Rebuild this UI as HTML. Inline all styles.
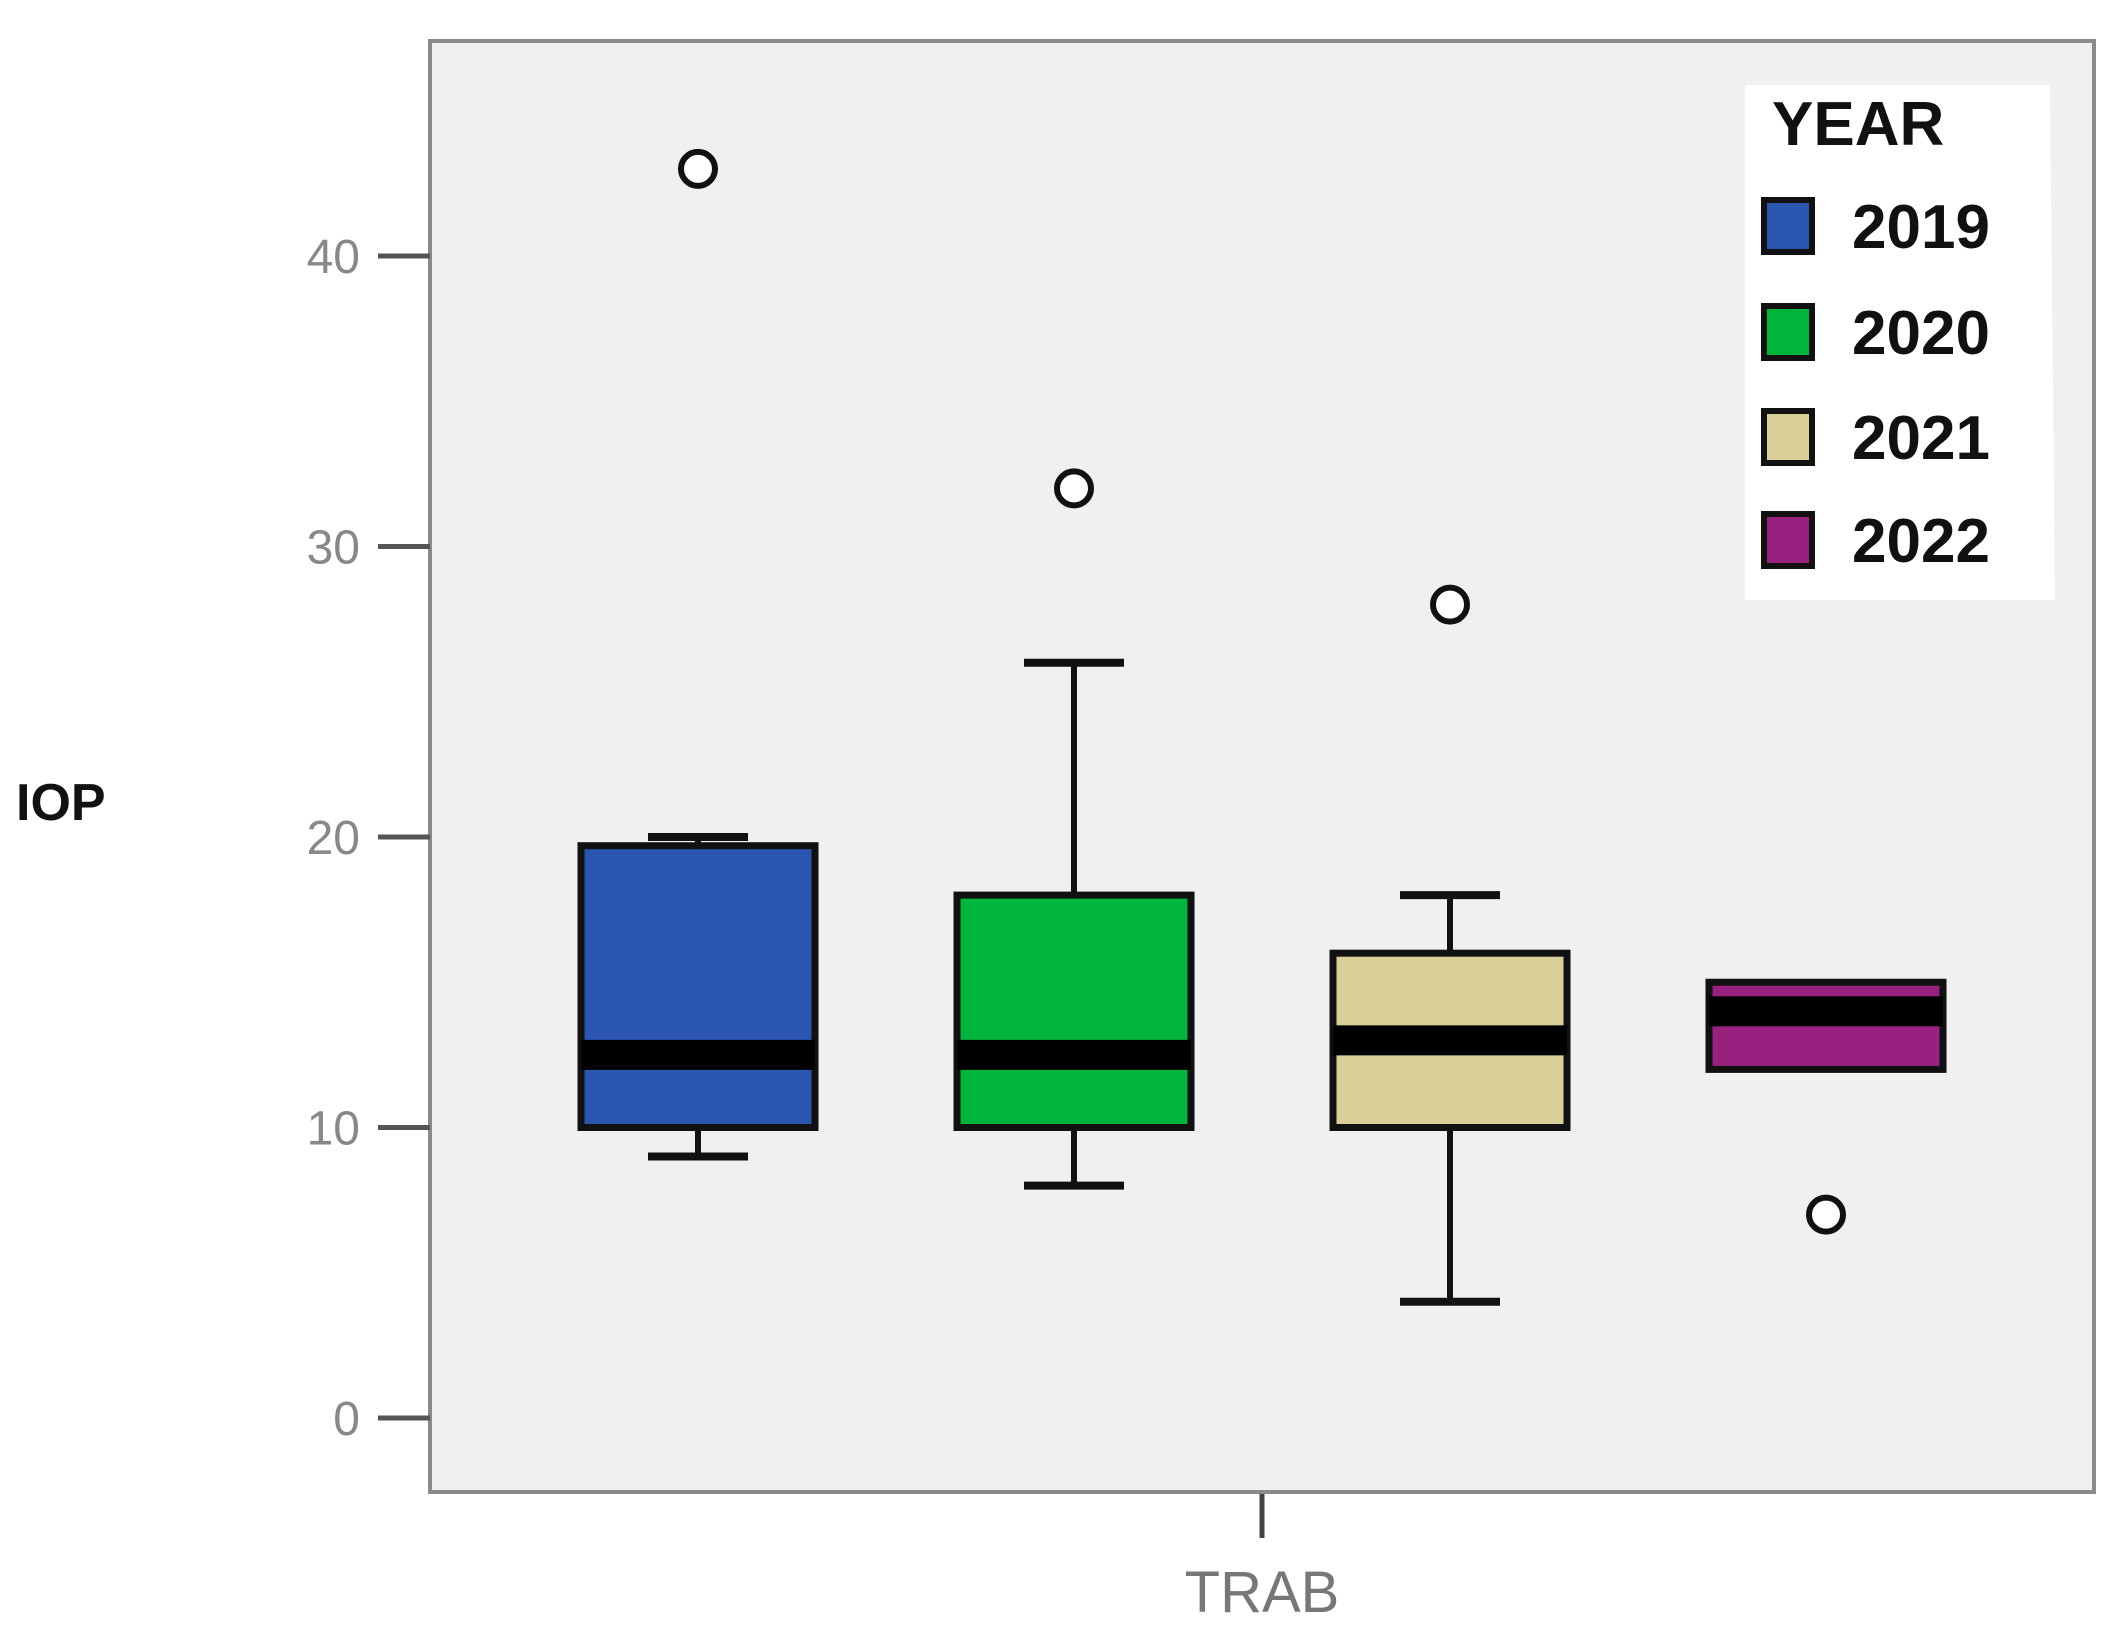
<!DOCTYPE html>
<html><head><meta charset="utf-8"><style>
body{margin:0;background:#fff;width:2122px;height:1640px;overflow:hidden}
svg{display:block}
</style></head><body>
<svg id="chart" width="2122" height="1640" xmlns="http://www.w3.org/2000/svg" font-family="Liberation Sans, sans-serif">
<rect x="430" y="41" width="1664" height="1451" fill="#f0f0f0" stroke="#8a8a8a" stroke-width="4"/>
<g id="yaxis"></g>
<g id="boxes"></g>
<text x="16" y="820" font-size="52" font-weight="bold" fill="#111">IOP</text>
<line x1="1262" y1="1494" x2="1262" y2="1538" stroke="#444" stroke-width="5"/>
<text x="1262" y="1612" font-size="58" fill="#777" text-anchor="middle">TRAB</text>
<g>
<path d="M1745 85 L2050 85 L2055 600 L1745 600 Z" fill="#fff"/>
<text x="1772" y="145" font-size="62" font-weight="bold" fill="#111">YEAR</text>
<g id="legend-items"></g>
</g>
</svg>
<script>
const categories = ["2019","2020","2021","2022"];
const colors = ["#2b56b0","#00b43c","#d8d098","#98207e"];
const q1 = [10,10,10,12];
const q3 = [19.7,18,16,15];
const medians = [12.5,12.5,13,14];
const whiskerLow = [9,8,4,12];
const whiskerHigh = [20,26,18,15];
const outliers = [43,32,28,7];
const yTicks = [0,10,20,30,40];

const NS="http://www.w3.org/2000/svg";
function y(v){return 1418-29.05*v;}
function xc(i){return 698+i*376;}
function mk(tag,attrs,parent){const e=document.createElementNS(NS,tag);for(const k in attrs)e.setAttribute(k,attrs[k]);parent.appendChild(e);return e;}
const ya=document.getElementById('yaxis');
yTicks.forEach(t=>{
  const l=mk('line',{x1:378,x2:430,y1:y(t),y2:y(t),stroke:'#555','stroke-width':5},ya);
  
  
  const tx=mk('text',{x:360,y:y(t)+17,'font-size':48,fill:'#888','text-anchor':'end'},ya);
  tx.textContent=t;
  
  
});
const bx=document.getElementById('boxes');
categories.forEach((c,i)=>{
  const cx=xc(i),hw=117,cap=50;
  const g=mk('g',{},bx);
  
  
  if(whiskerHigh[i]>q3[i]){
    mk('line',{x1:cx,x2:cx,y1:y(q3[i]),y2:y(whiskerHigh[i]),stroke:'#111','stroke-width':6},g);
    mk('line',{x1:cx-cap,x2:cx+cap,y1:y(whiskerHigh[i]),y2:y(whiskerHigh[i]),stroke:'#111','stroke-width':8},g);
  }
  if(whiskerLow[i]<q1[i]){
    mk('line',{x1:cx,x2:cx,y1:y(q1[i]),y2:y(whiskerLow[i]),stroke:'#111','stroke-width':6},g);
    mk('line',{x1:cx-cap,x2:cx+cap,y1:y(whiskerLow[i]),y2:y(whiskerLow[i]),stroke:'#111','stroke-width':8},g);
  }
  mk('rect',{x:cx-hw,y:y(q3[i]),width:2*hw,height:y(q1[i])-y(q3[i]),fill:colors[i],stroke:'#111','stroke-width':7},g);
  mk('rect',{x:cx-hw,y:y(medians[i])-15,width:2*hw,height:30,fill:'#000'},g);
  const o=mk('circle',{cx:cx,cy:y(outliers[i]),r:17,fill:'#fff',stroke:'#111','stroke-width':6},g);
  
  
});
const li=document.getElementById('legend-items');
const ly=[226,332,437,540];
categories.forEach((c,i)=>{
  const s=mk('rect',{x:1764,y:ly[i]-26,width:48,height:52,fill:colors[i],stroke:'#111','stroke-width':6},li);
  
  
  const t=mk('text',{x:1852,y:ly[i]+22,'font-size':62,'font-weight':'bold',fill:'#111'},li);
  t.textContent=c;
  
  
});
</script>
</body></html>
